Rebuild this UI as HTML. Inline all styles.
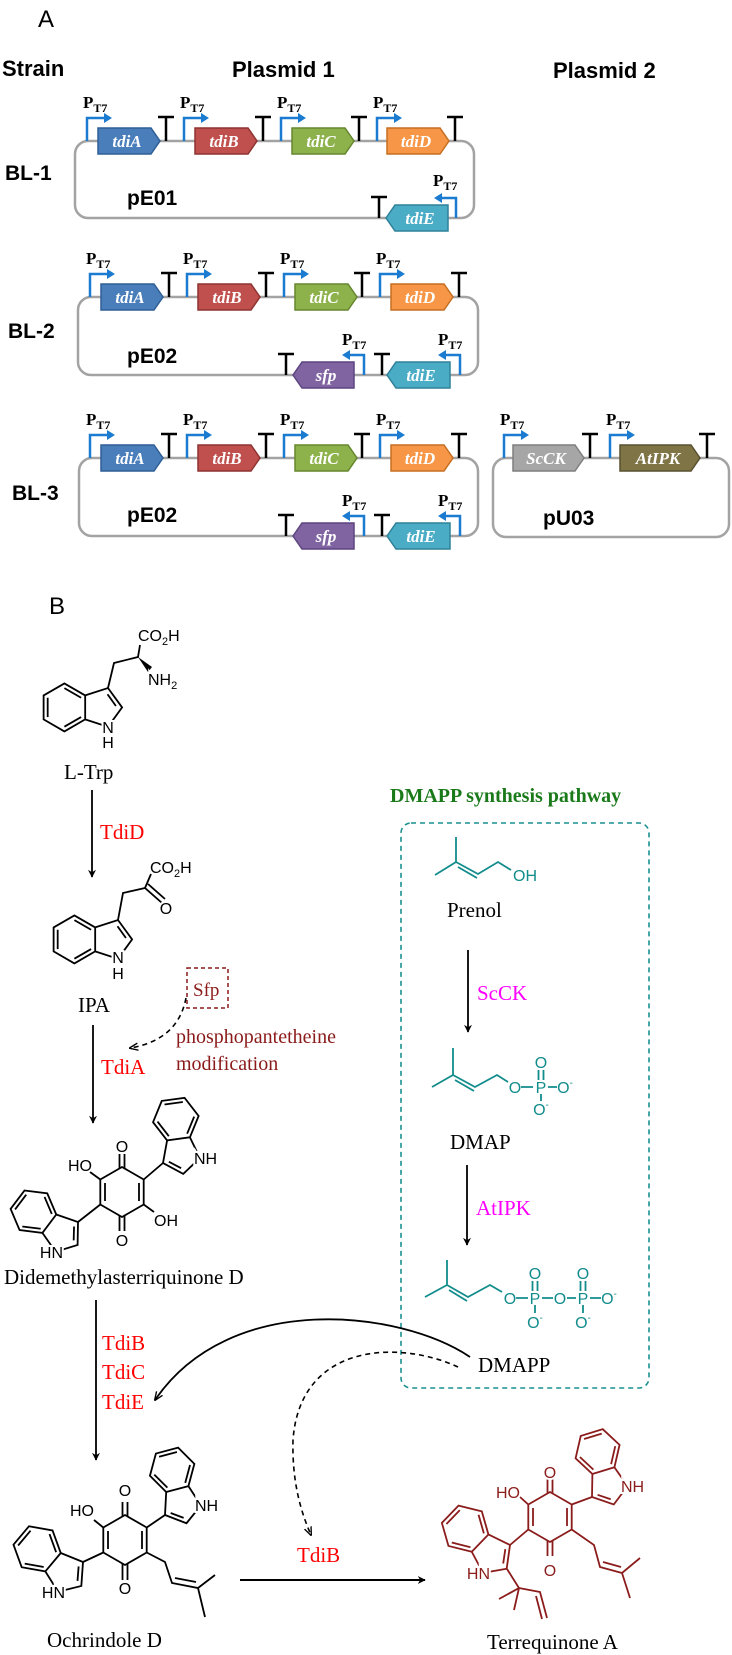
<!DOCTYPE html>
<html><head><meta charset="utf-8"><style>
html,body{margin:0;padding:0;background:#fff}
svg{display:block}
.s{font-family:"Liberation Sans",sans-serif}
.r{font-family:"Liberation Serif",serif}
.g{font-family:"Liberation Serif",serif;font-style:italic;font-weight:bold;font-size:17px;fill:#fff;text-anchor:middle}
.pt{font-family:"Liberation Serif",serif;font-weight:bold;font-size:17px}
.at{font-family:"Liberation Sans",sans-serif;font-size:16px;paint-order:stroke;stroke:#fff;stroke-width:4px}
</style></head><body>
<svg width="732" height="1655" viewBox="0 0 732 1655" xmlns="http://www.w3.org/2000/svg">
<defs>
<marker id="ah" viewBox="0 0 10 10" refX="9" refY="5" markerWidth="8" markerHeight="11" markerUnits="userSpaceOnUse" orient="auto"><path d="M0,0 L10,5 L0,10 L3,5 Z" fill="#000"/></marker>
<marker id="ao" viewBox="0 0 10 10" refX="9" refY="5" markerWidth="9" markerHeight="9" markerUnits="userSpaceOnUse" orient="auto"><path d="M0,1 L10,5 L0,9" fill="none" stroke="#000" stroke-width="1.5"/></marker>
<g id="ind" fill="none">
<polygon vector-effect="non-scaling-stroke" points="-2.683,0.309 -1.817,-0.191 -0.951,0.309 -0.951,1.309 -1.817,1.809 -2.683,1.309"/>
<polyline vector-effect="non-scaling-stroke" points="-0.951,0.309 0,0 0.588,0.809 0,1.618 -0.951,1.309"/>
<line vector-effect="non-scaling-stroke" x1="-1.817" y1="0.005" x2="-1.121" y2="0.407"/>
<line vector-effect="non-scaling-stroke" x1="-1.121" y1="1.211" x2="-1.817" y2="1.613"/>
<line vector-effect="non-scaling-stroke" x1="-2.513" y1="1.211" x2="-2.513" y2="0.407"/>
<line vector-effect="non-scaling-stroke" x1="-0.02" y1="0.26" x2="0.33" y2="0.75"/>
</g>
</defs>

<text x="38" y="27" class="s" font-size="24">A</text>
<text x="2" y="76" class="s" font-size="22" font-weight="bold">Strain</text>
<text x="232" y="77" class="s" font-size="22" font-weight="bold">Plasmid 1</text>
<text x="553" y="78" class="s" font-size="22" font-weight="bold">Plasmid 2</text>
<text x="5" y="180" class="s" font-size="21" font-weight="bold">BL-1</text>
<text x="8" y="338" class="s" font-size="21" font-weight="bold">BL-2</text>
<text x="12" y="500" class="s" font-size="21" font-weight="bold">BL-3</text>

<g fill="none" stroke="#a3a3a3" stroke-width="2.5">
<rect x="75" y="141" width="399" height="77" rx="13"/>
<rect x="78" y="297" width="400" height="78" rx="13"/>
<rect x="79" y="458" width="399" height="78" rx="13"/>
<rect x="493" y="458" width="236" height="79" rx="13"/>
</g>

<g stroke-width="1.5">
<polygon points="98,128 151,128 160,141 151,154 98,154" fill="#4a7ebb" stroke="#2f5f95"/>
<polygon points="195,128 248,128 257,141 248,154 195,154" fill="#c0504d" stroke="#8e3331"/>
<polygon points="292,128 345,128 354,141 345,154 292,154" fill="#8db24c" stroke="#66862e"/>
<polygon points="387,128 440,128 449,141 440,154 387,154" fill="#f79646" stroke="#c56f22"/>
<polygon points="386,218 395,205 448,205 448,231 395,231" fill="#4bacc6" stroke="#2f8199"/>
<polygon points="101,284 154,284 163,297 154,310 101,310" fill="#4a7ebb" stroke="#2f5f95"/>
<polygon points="198,284 251,284 260,297 251,310 198,310" fill="#c0504d" stroke="#8e3331"/>
<polygon points="295,284 348,284 357,297 348,310 295,310" fill="#8db24c" stroke="#66862e"/>
<polygon points="391,284 444,284 453,297 444,310 391,310" fill="#f79646" stroke="#c56f22"/>
<polygon points="293,375 302,362 354,362 354,388 302,388" fill="#8064a2" stroke="#5c4580"/>
<polygon points="387,375 396,362 450,362 450,388 396,388" fill="#4bacc6" stroke="#2f8199"/>
<polygon points="101,445 154,445 163,458 154,471 101,471" fill="#4a7ebb" stroke="#2f5f95"/>
<polygon points="198,445 251,445 260,458 251,471 198,471" fill="#c0504d" stroke="#8e3331"/>
<polygon points="295,445 348,445 357,458 348,471 295,471" fill="#8db24c" stroke="#66862e"/>
<polygon points="391,445 444,445 453,458 444,471 391,471" fill="#f79646" stroke="#c56f22"/>
<polygon points="293,536 302,523 354,523 354,549 302,549" fill="#8064a2" stroke="#5c4580"/>
<polygon points="387,536 396,523 450,523 450,549 396,549" fill="#4bacc6" stroke="#2f8199"/>
<polygon points="513,445 575,445 584,458 575,471 513,471" fill="#a6a6a6" stroke="#7f7f7f"/>
<polygon points="620,445 691,445 700,458 691,471 620,471" fill="#7f7445" stroke="#595030"/>
</g>
<g class="g">
<text x="127" y="147">tdiA</text><text x="224" y="147">tdiB</text><text x="321" y="147">tdiC</text><text x="416" y="147">tdiD</text><text x="420" y="224">tdiE</text>
<text x="130" y="303">tdiA</text><text x="227" y="303">tdiB</text><text x="324" y="303">tdiC</text><text x="420" y="303">tdiD</text><text x="326" y="381">sfp</text><text x="421" y="381">tdiE</text>
<text x="130" y="464">tdiA</text><text x="227" y="464">tdiB</text><text x="324" y="464">tdiC</text><text x="420" y="464">tdiD</text><text x="326" y="542">sfp</text><text x="421" y="542">tdiE</text>
<text x="546" y="464">ScCK</text><text x="658" y="464">AtIPK</text>
</g>

<g stroke="#000" stroke-width="2.5" fill="none">
<path d="M166,141V117M158,117H174 M263,141V117M255,117H271 M359,141V117M351,117H367 M455,141V117M447,117H463 M379,218V197M371,197H387"/>
<path d="M169,297V273M161,273H177 M266,297V273M258,273H274 M362,297V273M354,273H370 M459,297V273M451,273H467 M286,375V354M278,354H294 M382,375V354M374,354H390"/>
<path d="M169,458V434M161,434H177 M266,458V434M258,434H274 M362,458V434M354,434H370 M459,458V434M451,434H467 M286,536V515M278,515H294 M382,536V515M374,515H390 M590,458V434M582,434H598 M707,458V434M699,434H715"/>
</g>

<g stroke="#1a7bd0" stroke-width="2.5" fill="none">
<path d="M87,141V118H106 M184,141V118H203 M281,141V118H300 M377,141V118H396 M456,218V198H440"/>
<path d="M90,297V274H109 M187,297V274H206 M284,297V274H303 M380,297V274H399 M364,375V355H348 M460,375V355H444"/>
<path d="M90,458V435H109 M187,458V435H206 M284,458V435H303 M380,458V435H399 M364,536V516H348 M460,536V516H444 M504,458V435H523 M610,458V435H629"/>
</g>
<g fill="#1a7bd0">
<path d="M104,113L112,118L104,123Z M201,113L209,118L201,123Z M298,113L306,118L298,123Z M394,113L402,118L394,123Z M442,193L434,198L442,203Z"/>
<path d="M107,269L115,274L107,279Z M204,269L212,274L204,279Z M301,269L309,274L301,279Z M397,269L405,274L397,279Z M350,350L342,355L350,360Z M446,350L438,355L446,360Z"/>
<path d="M107,430L115,435L107,440Z M204,430L212,435L204,440Z M301,430L309,435L301,440Z M397,430L405,435L397,440Z M350,511L342,516L350,521Z M446,511L438,516L446,521Z M521,430L529,435L521,440Z M627,430L635,435L627,440Z"/>
</g>
<g class="pt">
<text x="83" y="108">P<tspan font-size="12" dy="4">T7</tspan></text>
<text x="180" y="108">P<tspan font-size="12" dy="4">T7</tspan></text>
<text x="277" y="108">P<tspan font-size="12" dy="4">T7</tspan></text>
<text x="373" y="108">P<tspan font-size="12" dy="4">T7</tspan></text>
<text x="433" y="186">P<tspan font-size="12" dy="4">T7</tspan></text>
<text x="86" y="264">P<tspan font-size="12" dy="4">T7</tspan></text>
<text x="183" y="264">P<tspan font-size="12" dy="4">T7</tspan></text>
<text x="280" y="264">P<tspan font-size="12" dy="4">T7</tspan></text>
<text x="376" y="264">P<tspan font-size="12" dy="4">T7</tspan></text>
<text x="342" y="345">P<tspan font-size="12" dy="4">T7</tspan></text>
<text x="438" y="345">P<tspan font-size="12" dy="4">T7</tspan></text>
<text x="86" y="425">P<tspan font-size="12" dy="4">T7</tspan></text>
<text x="183" y="425">P<tspan font-size="12" dy="4">T7</tspan></text>
<text x="280" y="425">P<tspan font-size="12" dy="4">T7</tspan></text>
<text x="376" y="425">P<tspan font-size="12" dy="4">T7</tspan></text>
<text x="342" y="506">P<tspan font-size="12" dy="4">T7</tspan></text>
<text x="438" y="506">P<tspan font-size="12" dy="4">T7</tspan></text>
<text x="500" y="425">P<tspan font-size="12" dy="4">T7</tspan></text>
<text x="606" y="425">P<tspan font-size="12" dy="4">T7</tspan></text>
</g>
<g class="s" font-size="21" font-weight="bold">
<text x="127" y="205">pE01</text>
<text x="127" y="363">pE02</text>
<text x="127" y="522">pE02</text>
<text x="543" y="525">pU03</text>
</g>

<text x="49" y="614" class="s" font-size="24">B</text>

<g stroke="#000" stroke-width="1.8" fill="none">
<use href="#ind" transform="translate(108,688) scale(24)"/>
<path d="M108,688L114,663L138,657L140,645"/>
</g>
<polygon points="138,657 152,667 148,672" fill="#000"/>
<text x="138" y="641" class="at">CO<tspan font-size="11" dy="4">2</tspan><tspan dy="-4">H</tspan></text>
<text x="148" y="685" class="at">NH<tspan font-size="11" dy="4">2</tspan></text>
<text x="108" y="733" class="at" text-anchor="middle">N</text>
<text x="108" y="748" class="at" text-anchor="middle">H</text>
<text x="64" y="779" class="r" font-size="21">L-Trp</text>

<line x1="92" y1="790" x2="92" y2="877" stroke="#000" stroke-width="1.8" marker-end="url(#ah)"/>
<text x="100" y="839" class="r" font-size="21" fill="#ff0000">TdiD</text>

<g stroke="#000" stroke-width="1.8" fill="none">
<use href="#ind" transform="translate(118,920) scale(24)"/>
<path d="M118,920L123,893L145,888L151,874"/>
<path d="M145,888L162,903 M148,884L165,899"/>
</g>
<text x="150" y="873" class="at">CO<tspan font-size="11" dy="4">2</tspan><tspan dy="-4">H</tspan></text>
<text x="166" y="914" class="at" text-anchor="middle">O</text>
<text x="118" y="963" class="at" text-anchor="middle">N</text>
<text x="118" y="979" class="at" text-anchor="middle">H</text>
<text x="78" y="1012" class="r" font-size="21">IPA</text>

<rect x="187" y="968" width="41" height="40" fill="none" stroke="#8b1a1a" stroke-width="1.5" stroke-dasharray="4,3"/>
<text x="193" y="996" class="r" font-size="19" fill="#8b1a1a">Sfp</text>
<path d="M186,998 Q178,1040 130,1048" fill="none" stroke="#000" stroke-width="1.6" stroke-dasharray="5,4" marker-end="url(#ao)"/>
<text x="176" y="1043" class="r" font-size="20" fill="#8b1a1a">phosphopantetheine</text>
<text x="176" y="1070" class="r" font-size="20" fill="#8b1a1a">modification</text>
<line x1="93" y1="1025" x2="93" y2="1123" stroke="#000" stroke-width="1.8" marker-end="url(#ah)"/>
<text x="101" y="1074" class="r" font-size="21" fill="#ff0000">TdiA</text>

<g stroke="#000" stroke-width="1.8" fill="none">
<use href="#ind" transform="translate(163,1163) rotate(-97.7) scale(-23,23)"/>
<use href="#ind" transform="translate(78,1222) rotate(37) scale(23)"/>
<polygon points="122,1167 143.7,1179.5 143.7,1204.5 122,1217 100.3,1204.5 100.3,1179.5"/>
<path d="M105,1183V1201 M139,1183V1201"/>
<path d="M119.5,1168V1154 M124.5,1168V1154 M119.5,1216V1231 M124.5,1216V1231"/>
<path d="M100.3,1179.5L90,1172 M143.7,1204.5L154,1212 M143.7,1179.5L163,1163 M100.3,1204.5L78,1222"/>
</g>
<text x="122" y="1152" class="at" text-anchor="middle">O</text>
<text x="122" y="1246" class="at" text-anchor="middle">O</text>
<text x="92" y="1171" class="at" text-anchor="end">HO</text>
<text x="154" y="1226" class="at">OH</text>
<text x="194" y="1164" class="at">NH</text>
<text x="63" y="1258" class="at" text-anchor="end">HN</text>
<text x="4" y="1284" class="r" font-size="21">Didemethylasterriquinone D</text>

<line x1="96" y1="1300" x2="96" y2="1460" stroke="#000" stroke-width="1.8" marker-end="url(#ah)"/>
<text x="102" y="1350" class="r" font-size="21" fill="#ff0000">TdiB</text>
<text x="102" y="1379" class="r" font-size="21" fill="#ff0000">TdiC</text>
<text x="102" y="1409" class="r" font-size="21" fill="#ff0000">TdiE</text>

<text x="390" y="802" class="r" font-size="20" font-weight="bold" fill="#1a7a1a">DMAPP synthesis pathway</text>
<rect x="401" y="823" width="248" height="565" rx="10" fill="none" stroke="#1a9090" stroke-width="1.6" stroke-dasharray="5,4"/>
<g stroke="#138c8c" stroke-width="1.8" fill="none">
<path d="M435,875L456,862L456,837 M456,862L478,874L498,862L511,870 M458,867L477,878"/>
<path d="M432,1087L453,1075L453,1048 M453,1075L475,1087L497,1075L508,1082 M455,1080L474,1091"/>
<path d="M425,1297L447,1285L447,1260 M447,1285L468,1297L490,1285L502,1292 M449,1290L467,1301"/>
<path d="M521,1087H533 M548,1087H557 M538.5,1080V1070 M543.5,1080V1070 M541,1094V1101"/>
<path d="M516,1298H528 M542,1298H553 M567,1298H576 M590,1298H601 M532.5,1291V1281 M537.5,1291V1281 M580.5,1291V1281 M585.5,1291V1281 M535,1305V1313 M583,1305V1313"/>
</g>
<g class="s" font-size="16" fill="#138c8c">
<text x="513" y="881">OH</text>
<text x="515" y="1093" text-anchor="middle">O</text><text x="541" y="1093" text-anchor="middle">P</text><text x="541" y="1068" text-anchor="middle">O</text><text x="565" y="1093" text-anchor="middle">O<tspan font-size="10" dy="-7">-</tspan></text><text x="541" y="1115" text-anchor="middle">O<tspan font-size="10" dy="-7">-</tspan></text>
<text x="510" y="1304" text-anchor="middle">O</text><text x="535" y="1304" text-anchor="middle">P</text><text x="535" y="1279" text-anchor="middle">O</text><text x="535" y="1328" text-anchor="middle">O<tspan font-size="10" dy="-7">-</tspan></text>
<text x="560" y="1304" text-anchor="middle">O</text><text x="583" y="1304" text-anchor="middle">P</text><text x="583" y="1279" text-anchor="middle">O</text><text x="583" y="1328" text-anchor="middle">O<tspan font-size="10" dy="-7">-</tspan></text><text x="609" y="1304" text-anchor="middle">O<tspan font-size="10" dy="-7">-</tspan></text>
</g>
<text x="447" y="917" class="r" font-size="21">Prenol</text>
<line x1="468" y1="950" x2="468" y2="1032" stroke="#000" stroke-width="1.8" marker-end="url(#ah)"/>
<text x="477" y="1000" class="r" font-size="21" fill="#ff00ff">ScCK</text>
<text x="450" y="1149" class="r" font-size="21">DMAP</text>
<line x1="467" y1="1165" x2="467" y2="1245" stroke="#000" stroke-width="1.8" marker-end="url(#ah)"/>
<text x="476" y="1215" class="r" font-size="21" fill="#ff00ff">AtIPK</text>
<text x="478" y="1372" class="r" font-size="21">DMAPP</text>

<path d="M470,1357 C400,1310 230,1290 155,1400" fill="none" stroke="#000" stroke-width="1.8" marker-end="url(#ao)"/>
<path d="M458,1367 C400,1340 300,1342 293,1440 C292,1480 300,1510 311,1535" fill="none" stroke="#000" stroke-width="1.6" stroke-dasharray="5,4" marker-end="url(#ao)"/>

<g stroke="#000" stroke-width="1.8" fill="none">
<use href="#ind" transform="translate(165,1515) rotate(-105) scale(-23,23)"/>
<use href="#ind" transform="translate(83,1562) rotate(40) scale(24)"/>
<polygon points="125,1515 146.7,1527.5 146.7,1552.5 125,1565 103.3,1552.5 103.3,1527.5"/>
<path d="M108,1531V1549 M142,1531V1549"/>
<path d="M122.5,1516V1502 M127.5,1516V1502 M122.5,1564V1580 M127.5,1564V1580"/>
<path d="M103.3,1527.5L94,1520 M146.7,1527.5L165,1515 M103.3,1552.5L83,1562"/>
<path d="M146.7,1552.5L165,1562L172,1583L198,1588L215,1575 M198,1588L205,1617 M175,1578L196,1582"/>
</g>
<text x="125" y="1496" class="at" text-anchor="middle">O</text>
<text x="125" y="1594" class="at" text-anchor="middle">O</text>
<text x="94" y="1516" class="at" text-anchor="end">HO</text>
<text x="195" y="1511" class="at">NH</text>
<text x="65" y="1598" class="at" text-anchor="end">HN</text>
<text x="47" y="1647" class="r" font-size="21">Ochrindole D</text>

<line x1="240" y1="1580" x2="425" y2="1580" stroke="#000" stroke-width="2" marker-end="url(#ah)"/>
<text x="297" y="1562" class="r" font-size="21" fill="#ff0000">TdiB</text>

<g stroke="#8b1c1c" stroke-width="1.8" fill="none">
<use href="#ind" transform="translate(592,1497) rotate(-107) scale(-23,23)"/>
<use href="#ind" transform="translate(510,1545) rotate(44) scale(24)"/>
<polygon points="550,1492 571.7,1504.5 571.7,1529.5 550,1542 528.3,1529.5 528.3,1504.5"/>
<path d="M533,1508V1526 M567,1508V1526"/>
<path d="M547.5,1493V1479 M552.5,1493V1479 M547.5,1541V1556 M552.5,1541V1556"/>
<path d="M528.3,1504.5L520,1497 M571.7,1504.5L592,1497 M528.3,1529.5L510,1545"/>
<path d="M507,1569L519,1588L499,1599 M519,1588L514,1610 M519,1588L540,1592L547,1618 M536,1596L542,1619"/>
<path d="M571.7,1529.5L594,1545L600,1567L622,1573L640,1558 M622,1573L630,1598 M603,1562L621,1567"/>
</g>
<g class="at" fill="#8b1c1c">
<text x="550" y="1478" text-anchor="middle">O</text>
<text x="550" y="1576" text-anchor="middle">O</text>
<text x="520" y="1498" text-anchor="end">HO</text>
<text x="621" y="1492">NH</text>
<text x="490" y="1579" text-anchor="end">HN</text>
</g>
<text x="487" y="1649" class="r" font-size="21">Terrequinone A</text>
</svg>
</body></html>
